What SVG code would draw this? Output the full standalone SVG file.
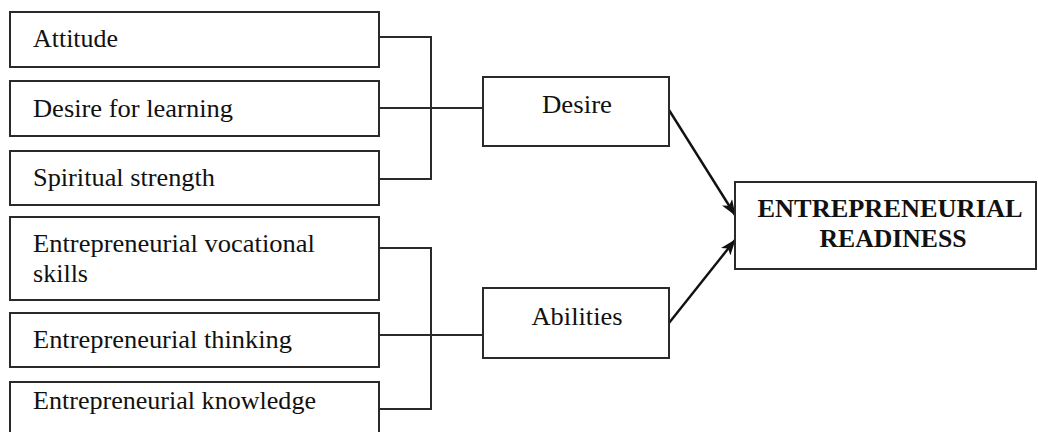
<svg xmlns="http://www.w3.org/2000/svg" width="1038" height="432" viewBox="0 0 1038 432">
  <style>
    .box { fill: #ffffff; stroke: #2a2a2a; stroke-width: 2; }
    .lbl { font-family: "Liberation Serif", "Times New Roman", Times, serif; font-size: 25px; fill: #111111; }
    .mid { text-anchor: middle; }
    .bold { font-weight: bold; font-size: 25px; }
    .wire { fill: none; stroke: #2a2a2a; stroke-width: 2; }
    .arrow { fill: none; stroke: #111111; stroke-width: 2.4; marker-end: url(#ah); }
  </style>
  <defs>
    <marker id="ah" viewBox="0 0 16 12" refX="15" refY="6" markerWidth="16" markerHeight="12" markerUnits="userSpaceOnUse" orient="auto">
      <path d="M0,0 L16,6 L0,12 L4,6 Z" fill="#111111"/>
    </marker>
  </defs>
  <rect width="1038" height="432" fill="#ffffff"/>

  <g id="connectors">
    <path class="wire" d="M379,37 H431 V179 H379"/>
    <path class="wire" d="M379,108 H483"/>
    <path class="wire" d="M379,248 H431 V409 H379"/>
    <path class="wire" d="M379,335 H483"/>
    <path class="arrow" d="M669,110 L735,215"/>
    <path class="arrow" d="M669,323 L735,240"/>
  </g>

  <g id="attitude">
    <rect class="box" x="10" y="12" width="369" height="55"/>
    <text class="lbl" x="33" y="47" textLength="85" lengthAdjust="spacingAndGlyphs">Attitude</text>
  </g>
  <g id="desire-for-learning">
    <rect class="box" x="10" y="81" width="369" height="55"/>
    <text class="lbl" x="33" y="117" textLength="200" lengthAdjust="spacingAndGlyphs">Desire for learning</text>
  </g>
  <g id="spiritual-strength">
    <rect class="box" x="10" y="151" width="369" height="54"/>
    <text class="lbl" x="33" y="186" textLength="182" lengthAdjust="spacingAndGlyphs">Spiritual strength</text>
  </g>
  <g id="vocational-skills">
    <rect class="box" x="10" y="217" width="369" height="83"/>
    <text class="lbl" x="33" y="252" textLength="282" lengthAdjust="spacingAndGlyphs">Entrepreneurial vocational</text>
    <text class="lbl" x="33" y="282" textLength="55" lengthAdjust="spacingAndGlyphs">skills</text>
  </g>
  <g id="thinking">
    <rect class="box" x="10" y="313" width="369" height="54"/>
    <text class="lbl" x="33" y="348" textLength="259" lengthAdjust="spacingAndGlyphs">Entrepreneurial thinking</text>
  </g>
  <g id="knowledge">
    <rect class="box" x="10" y="382" width="369" height="62"/>
    <text class="lbl" x="33" y="409" textLength="283" lengthAdjust="spacingAndGlyphs">Entrepreneurial knowledge</text>
  </g>

  <g id="desire">
    <rect class="box" x="483" y="77" width="186" height="69"/>
    <text class="lbl mid" x="577" y="113" textLength="70" lengthAdjust="spacingAndGlyphs">Desire</text>
  </g>
  <g id="abilities">
    <rect class="box" x="483" y="288" width="186" height="70"/>
    <text class="lbl mid" x="577" y="325" textLength="91" lengthAdjust="spacingAndGlyphs">Abilities</text>
  </g>

  <g id="entrepreneurial-readiness">
    <rect class="box" x="735" y="182" width="301" height="87"/>
    <text class="lbl mid bold" x="890" y="217" textLength="265" lengthAdjust="spacingAndGlyphs">ENTREPRENEURIAL</text>
    <text class="lbl mid bold" x="893" y="247" textLength="147" lengthAdjust="spacingAndGlyphs">READINESS</text>
  </g>
</svg>
